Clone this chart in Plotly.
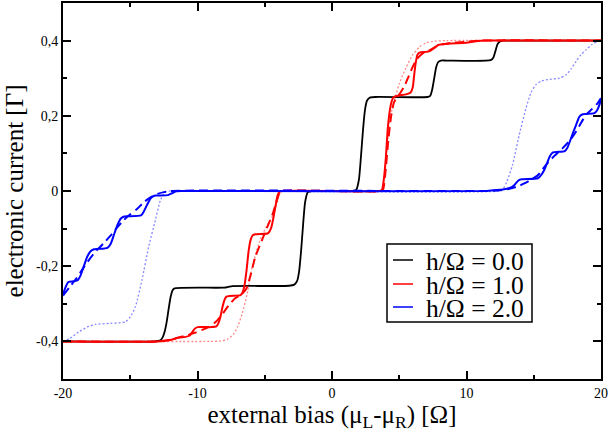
import plotly.graph_objects as go

# ---------------- data ----------------
BLACK_X = [-20, -13.2, -12.8, -12.6, -12.45, -12.3, -12.15, -12.0, -11.85, -11.7,
           -8.0, -7.7, -7.4, -3.2, -2.8, -2.6, -2.45, -2.3, -2.15, -2.0, -1.8, -1.5,
           1.5, 1.8, 2.0, 2.15, 2.3, 2.45, 2.6, 2.8, 3.2,
           7.1, 7.3, 7.45, 7.6, 7.75, 7.9, 8.1, 8.5,
           11.8, 12.0, 12.15, 12.3, 12.45, 12.7, 13.0, 20]
BLACK_Y = [-0.4, -0.4, -0.398, -0.39, -0.375, -0.35, -0.315, -0.282, -0.264, -0.259,
           -0.257, -0.255, -0.253, -0.252, -0.249, -0.24, -0.215, -0.16, -0.09, -0.03, -0.003, 0,
           0, 0.003, 0.03, 0.09, 0.16, 0.215, 0.24, 0.248, 0.25,
           0.25, 0.253, 0.27, 0.3, 0.33, 0.343, 0.347, 0.347,
           0.348, 0.355, 0.372, 0.39, 0.397, 0.4, 0.4, 0.4]

RED_X = [-20, -13.0, -12.0, -11.4, -10.9, -10.6, -10.4, -10.2, -10.0, -9.0,
         -8.6, -8.45, -8.3, -8.15, -8.0, -7.85, -7.6, -6.8, -6.65, -6.5,
         -6.35, -6.2, -6.05, -5.9, -5.7, -4.8, -4.65, -4.5, -4.35, -4.2,
         -4.05, -3.9, -3.7, 3.5, 3.7, 3.85, 4.0, 4.17, 4.37, 4.5,
         4.65, 5.0, 5.5, 5.85, 6.0, 6.1, 6.22, 6.35, 6.5, 7.0,
         7.25, 7.5, 7.72, 7.95, 8.7, 9.96, 10.7, 11.5, 20]
RED_Y = [-0.4, -0.4, -0.396, -0.39, -0.388, -0.385, -0.376, -0.366, -0.362, -0.362,
         -0.36, -0.352, -0.335, -0.31, -0.29, -0.281, -0.279, -0.277, -0.27, -0.25,
         -0.21, -0.16, -0.13, -0.118, -0.115, -0.113, -0.108, -0.095, -0.07, -0.04,
         -0.012, -0.002, 0, 0, 0.002, 0.03, 0.087, 0.176, 0.229, 0.245,
         0.251, 0.254, 0.257, 0.262, 0.275, 0.305, 0.34, 0.362, 0.368, 0.37,
         0.372, 0.378, 0.384, 0.389, 0.392, 0.394, 0.398, 0.4, 0.4]

RED_DASH_X = [-20, -13.0, -12.0, -11.0, -10.2, -9.7, -9.2, -8.7, -8.2, -7.7,
              -7.2, -6.8, -6.4, -6.1, -5.7, -5.2, -4.8, -4.4, -4.1, -3.9,
              -3.7, 3.6, 3.8, 4.0, 4.2, 4.4, 4.6, 4.85, 5.1, 5.4,
              5.7, 6.0, 6.3, 6.6, 6.9, 7.3, 7.7, 8.2, 9.0, 10.0, 11.0, 20]
RED_DASH_Y = [-0.4, -0.4, -0.395, -0.386, -0.377, -0.37, -0.362, -0.35, -0.33, -0.305,
              -0.285, -0.277, -0.262, -0.23, -0.175, -0.13, -0.095, -0.06, -0.025, -0.005,
              0, 0, 0.005, 0.06, 0.14, 0.2, 0.235, 0.25, 0.262, 0.28,
              0.305, 0.33, 0.35, 0.362, 0.37, 0.375, 0.383, 0.39, 0.394, 0.397, 0.4, 0.4]

RED_DOT_X = [-20, -9.0, -8.3, -7.8, -7.3, -7.0, -6.68, -6.3, -5.93, -5.31,
             -4.8, -4.32, -4.0, -3.85, -3.6, 3.6, 3.75, 3.9, 4.05, 4.2,
             4.35, 4.6, 5.0, 5.5, 6.0, 6.5, 7.0, 7.5, 8.5, 20]
RED_DOT_Y = [-0.4, -0.4, -0.399, -0.395, -0.38, -0.36, -0.326, -0.273, -0.202, -0.126,
             -0.09, -0.06, -0.02, -0.005, 0, 0, 0.005, 0.04, 0.1, 0.16,
             0.2, 0.235, 0.285, 0.328, 0.362, 0.383, 0.394, 0.398, 0.4, 0.4]

BLUE_X = [-20, -19.8, -19.6, -19.2, -18.9, -18.7, -18.45, -18.2, -17.95, -17.7,
          -17.4, -16.7, -16.45, -16.2, -15.95, -15.7, -15.45, -15.2, -14.2, -14.0,
          -13.75, -13.5, -13.3, -13.1, -12.2, -11.9, -11.6, -11.2, 11.5, 12.0,
          12.7, 13.2, 13.5, 13.7, 13.9, 14.1, 15.3, 15.5, 15.78, 16.0,
          16.16, 16.4, 17.3, 17.5, 17.77, 17.95, 18.15, 18.4, 18.65, 19.5,
          19.7, 19.88, 20]
BLUE_Y = [-0.275, -0.255, -0.242, -0.24, -0.237, -0.225, -0.2, -0.175, -0.16, -0.155,
          -0.154, -0.151, -0.14, -0.115, -0.09, -0.073, -0.068, -0.067, -0.065, -0.055,
          -0.037, -0.02, -0.014, -0.012, -0.011, -0.006, -0.001, 0, 0, 0.002,
          0.004, 0.008, 0.014, 0.022, 0.029, 0.031, 0.034, 0.04, 0.056, 0.075,
          0.09, 0.102, 0.106, 0.115, 0.14, 0.158, 0.176, 0.198, 0.204, 0.207,
          0.214, 0.229, 0.245]

BLUE_DASH_X = [-20, -19.5, -19.0, -18.5, -18.0, -17.5, -17.0, -16.5, -16.0, -15.5,
               -15.0, -14.5, -14.0, -13.5, -13.0, -12.5, -12.0, 11.5, 12.5, 13.2,
               13.8, 14.3, 14.8, 15.3, 15.9, 16.5, 17.15, 17.7, 18.15, 18.5,
               18.9, 19.3, 19.76, 20]
BLUE_DASH_Y = [-0.278, -0.255, -0.232, -0.205, -0.18, -0.158, -0.14, -0.12, -0.098, -0.078,
               -0.062, -0.048, -0.03, -0.017, -0.008, -0.003, 0, 0, 0.002, 0.006,
               0.012, 0.02, 0.03, 0.042, 0.069, 0.092, 0.114, 0.135, 0.158, 0.18,
               0.203, 0.217, 0.234, 0.247]

BLUE_DOT_X = [-20, -19.5, -18.84, -18.2, -17.6, -16.5, -15.36, -15.0, -14.62, -14.13,
              -13.63, -13.13, -12.75, -12.38, -12.0, 12.4, 12.7, 13.0, 13.42, 13.92,
              14.42, 14.8, 15.17, 15.6, 16.2, 16.9, 17.4, 17.8, 18.15, 18.5,
              18.9, 19.3, 19.75, 20]
BLUE_DOT_Y = [-0.4, -0.392, -0.375, -0.362, -0.355, -0.352, -0.348, -0.335, -0.308, -0.237,
              -0.148, -0.077, -0.024, -0.002, 0, 0, 0.005, 0.025, 0.069, 0.149,
              0.22, 0.262, 0.283, 0.293, 0.297, 0.3, 0.309, 0.326, 0.345, 0.362,
              0.376, 0.389, 0.398, 0.4]

LEGEND_LABELS = ["h/Ω = 0.0", "h/Ω = 1.0", "h/Ω = 2.0"]
LEGEND_COLORS = ["black", "red", "blue"]

X_TICKS = [-20, -10, 0, 10, 20]
X_TICK_TEXT = ["-20", "-10", "0", "10", "20"]
Y_TICKS = [-0.4, -0.2, 0, 0.2, 0.4]
Y_TICK_TEXT = ["-0,4", "-0,2", "0", "0,2", "0,4"]

FONT = "Liberation Serif"

fig = go.Figure()

def add(x, y, color, width=2.0, dash="solid", opacity=1.0):
    fig.add_trace(go.Scatter(
        x=x, y=y, mode="lines", showlegend=False, opacity=opacity,
        line=dict(color=color, width=width, dash=dash, shape="spline", smoothing=0.6),
        hoverinfo="skip"))

add(RED_DOT_X, RED_DOT_Y, "rgb(255,60,60)", width=1.3, dash="2px,2px", opacity=0.6)
add(BLUE_DOT_X, BLUE_DOT_Y, "rgb(60,60,255)", width=1.3, dash="2px,2px", opacity=0.6)
add(BLACK_X, BLACK_Y, "black", width=1.8)
add(RED_DASH_X, RED_DASH_Y, "red", width=2.0, dash="9px,5px")
add(RED_X, RED_Y, "red", width=2.0)
add(BLUE_DASH_X, BLUE_DASH_Y, "blue", width=2.0, dash="9px,5px")
add(BLUE_X, BLUE_Y, "blue", width=2.0)

# plot area in pixels: left 63, right 601, top 3, bottom 379
L, R, T, B = 63, 8, 3, 56
W, H = 609, 435
PW, PH = W - L - R, H - T - B

def px_x(p):
    return (p - L) / PW

def px_y(p):
    return (H - B - p) / PH

# legend drawn manually
fig.add_shape(type="rect", xref="paper", yref="paper",
              x0=px_x(387), x1=px_x(532), y0=px_y(322), y1=px_y(244),
              line=dict(color="black", width=1.5), fillcolor="white", layer="above")
rows = [260, 284, 307]
for lab, col, r in zip(LEGEND_LABELS, LEGEND_COLORS, rows):
    fig.add_shape(type="line", xref="paper", yref="paper",
                  x0=px_x(393), x1=px_x(413), y0=px_y(r), y1=px_y(r),
                  line=dict(color=col, width=1.5), layer="above")
    fig.add_annotation(xref="paper", yref="paper", x=px_x(424), y=px_y(r + 1),
                       text=lab, showarrow=False, xanchor="left", yanchor="middle",
                       height=23, valign="middle",
                       font=dict(family=FONT, size=25.5, color="black"))

axis_common = dict(
    showline=True, linecolor="black", linewidth=2, mirror="allticks",
    ticks="inside", ticklen=8, tickwidth=1.5, tickcolor="black",
    showgrid=False, zeroline=False, automargin=False,
    tickfont=dict(family=FONT, size=14, color="black"),
)

fig.update_xaxes(range=[-20, 20], tickvals=X_TICKS, ticktext=X_TICK_TEXT,
                 minor=dict(dtick=5, ticklen=4, tickwidth=1.5, tickcolor="black", ticks="inside"),
                 title=dict(text="external bias (μ<sub>L</sub>-μ<sub>R</sub>) [Ω]",
                            font=dict(family=FONT, size=25, color="black"), standoff=0),
                 **axis_common)
fig.update_yaxes(range=[-0.5, 0.5], tickvals=Y_TICKS, ticktext=Y_TICK_TEXT,
                 minor=dict(dtick=0.1, ticklen=4, tickwidth=1.5, tickcolor="black", ticks="inside"),
                 title=dict(text="electronic current [Γ]",
                            font=dict(family=FONT, size=25, color="black"), standoff=5),
                 **axis_common)

fig.update_layout(width=W, height=H, margin=dict(l=L, r=R, t=T, b=B),
                  paper_bgcolor="white", plot_bgcolor="white", showlegend=False,
                  font=dict(family=FONT, color="black"))

fig.write_html("out.html", config={"displayModeBar": False},
               post_script="document.body.style.margin='0';document.body.style.padding='0';")
